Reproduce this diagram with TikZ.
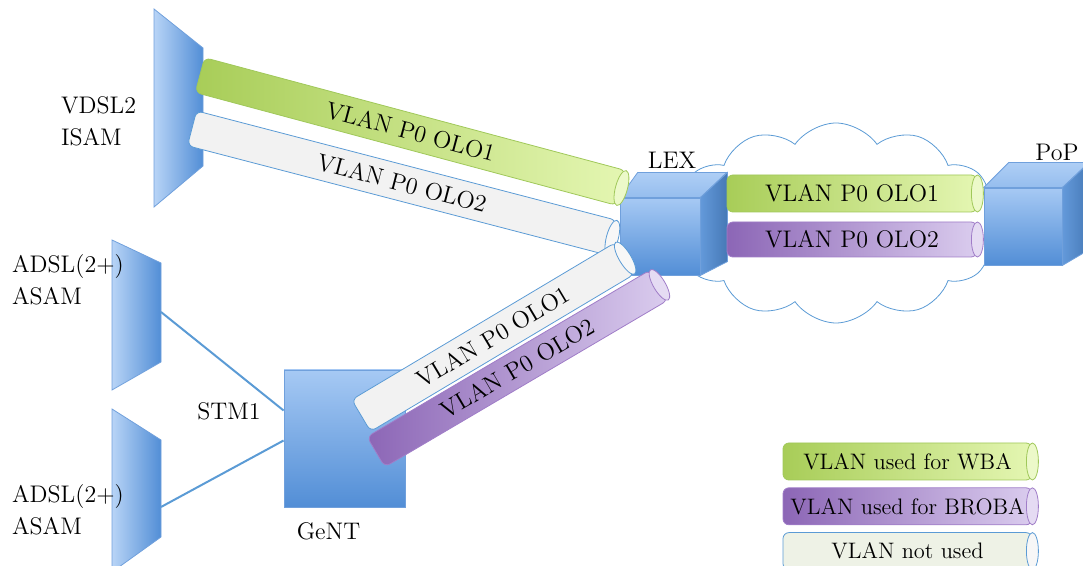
\documentclass[tikz,border=0pt]{standalone}
\usepackage{fontspec}
\usetikzlibrary{shapes.geometric, shapes.symbols, positioning}

\definecolor{boxlight}{RGB}{166,201,244}
\definecolor{boxdark}{RGB}{82,142,214}
\definecolor{boxedge}{RGB}{112,160,220}
\definecolor{linkblue}{RGB}{91,155,213}
\definecolor{greendark}{RGB}{168,205,88}
\definecolor{greenlight}{RGB}{228,246,178}
\definecolor{greenedge}{RGB}{160,200,90}
\definecolor{purpledark}{RGB}{140,102,182}
\definecolor{purplelight}{RGB}{218,204,238}
\definecolor{purpleedge}{RGB}{160,125,200}
\definecolor{unused}{RGB}{242,242,242}
\definecolor{unusedlegend}{RGB}{238,242,230}

\begin{document}
\begin{tikzpicture}[x=0.5pt, y=-0.5pt,
        every node/.style={font=\fontsize{12}{16}\selectfont, align=left},
        cubefront/.style={draw=boxedge, thin, top color=boxlight, bottom color=boxdark, minimum width=40pt, minimum height=38.5pt, inner sep=0pt},
        cubetop/.style={draw=boxedge, thin, top color=boxlight!90!white, bottom color=boxlight!80!boxdark},
        cubeside/.style={draw=boxedge, thin, left color=boxdark!90!white, right color=boxdark!85!black},
        dslam/.style={draw=boxedge, thin, left color=boxlight!80!white, right color=boxdark},
        pipe/.style={rectangle, rounded corners=3pt, thin, minimum height=18pt, inner sep=0pt},
        wba/.style={pipe, draw=greenedge, left color=greendark, right color=greenlight},
        broba/.style={pipe, draw=purpleedge, left color=purpledark, right color=purplelight},
        unusedpipe/.style={pipe, draw=linkblue, fill=unused},
        legend/.style={minimum width=124.5pt, minimum height=18.5pt, font=\fontsize{11.2}{14}\selectfont},
        wbacap/.style={draw=greenedge, fill=greenlight!70!white, thin},
        brobacap/.style={draw=purpleedge, fill=purplelight!70!white, thin},
        unusedcap/.style={draw=linkblue, fill=unused!60!white, thin},
        link/.style={draw=linkblue, line width=1pt}]

        \clip (0,0) rectangle (1083,566);

        % Cloud
        \node [cloud, cloud puffs=12, cloud puff arc=110, draw=linkblue, thin, fill=white,
               minimum width=164pt, minimum height=100pt] (cloud) at (836,223) {};

        % DSLAMs
        \shade [dslam] (154,9) -- (203,48) -- (203,166) -- (154,207) -- cycle;
        \shade [dslam] (112,240) -- (161,263) -- (161,362) -- (112,390) -- cycle;
        \shade [dslam] (112,409) -- (161,440) -- (161,537) -- (112,572) -- cycle;
        \coordinate (asamtop) at (161,312);
        \coordinate (asambot) at (161,507);

        % Boxes
        \node [cubefront, minimum width=60.5pt, minimum height=68.5pt] (gent) at (344.5,438.5) {};
        \node [cubefront] (lex) at (660,236.5) {};
        \shade [cubetop] (lex.north west) -- ++(18,-25) -- ++(89,0) -- (lex.north east) -- cycle;
        \shade [cubeside] (lex.north east) -- ++(27,-25) -- ++(0,89) -- (lex.south east) -- cycle;
        \node [cubefront, minimum width=39pt] (pop) at (1023,226.5) {};
        \shade [cubetop] (pop.north west) -- ++(25,-25) -- ++(80,0) -- (pop.north east) -- cycle;
        \shade [cubeside] (pop.north east) -- ++(27,-25) -- ++(0,87) -- (pop.south east) -- cycle;

        % Labels
        \node [anchor=west] (vdsl) at (54,121) {VDSL2\\ISAM};
        \node [anchor=west] (adsltop) at (5,280) {ADSL(2+)\\ASAM};
        \node [anchor=west] (adslbot) at (5,510) {ADSL(2+)\\ASAM};
        \node (stm) at (229,411) {STM1};
        \node [below=4pt of gent, xshift=-8pt] (gentlabel) {GeNT};
        \node [above=11pt of lex, xshift=6pt] (lexlabel) {LEX};
        \node [above=10pt of pop, xshift=17pt] (poplabel) {PoP};

        % STM1 links
        \draw [link] (asamtop) -- ([yshift=14pt]gent.west);
        \draw [link] (asambot) -- ([yshift=-1pt]gent.west);

        % VLAN pipes
        \node [wba, minimum width=218pt, rotate=-15] (olo1a) at (410.5,131.5) {VLAN P0 OLO1};
        \draw [wbacap, rotate=-15] (olo1a.east) ellipse [x radius=3pt, y radius=9pt];
        \node [unusedpipe, minimum width=217pt, rotate=-14.6] (olo2a) at (402,183) {VLAN P0 OLO2};
        \draw [unusedcap, rotate=-14.6] (olo2a.east) ellipse [x radius=3pt, y radius=9pt];
        \node [unusedpipe, minimum width=153.5pt, minimum height=18.5pt, rotate=30.8] (olo1b) at (493,337) {VLAN P0 OLO1};
        \draw [unusedcap, rotate=30.8] (olo1b.east) ellipse [x radius=3pt, y radius=9.25pt];
        \node [broba, minimum width=164.3pt, minimum height=17.5pt, rotate=30.5] (olo2b) at (517.5,368.5) {VLAN P0 OLO2};
        \draw [brobacap, rotate=30.5] (olo2b.east) ellipse [x radius=3pt, y radius=8.75pt];
        \node [wba, minimum width=125pt, minimum height=18.5pt] (olo1c) at (852,193.5) {VLAN P0 OLO1};
        \draw [wbacap] (olo1c.east) ellipse [x radius=3pt, y radius=9.25pt];
        \node [broba, minimum width=125pt, minimum height=17.5pt] (olo2c) at (852,239.5) {VLAN P0 OLO2};
        \draw [brobacap] (olo2c.east) ellipse [x radius=3pt, y radius=8.75pt];

        % Legend
        \node [wba, legend] (legwba) at (907.5,461.5) {VLAN used for WBA};
        \draw [wbacap] (legwba.east) ellipse [x radius=3pt, y radius=9.25pt];
        \node [broba, legend, below=3.5pt of legwba] (legbroba) {VLAN used for BROBA};
        \draw [brobacap] (legbroba.east) ellipse [x radius=3pt, y radius=9.25pt];
        \node [unusedpipe, legend, fill=unusedlegend, below=3.5pt of legbroba] (legunused) {VLAN not used};
        \draw [unusedcap] (legunused.east) ellipse [x radius=3pt, y radius=9.25pt];
\end{tikzpicture}
\end{document}
